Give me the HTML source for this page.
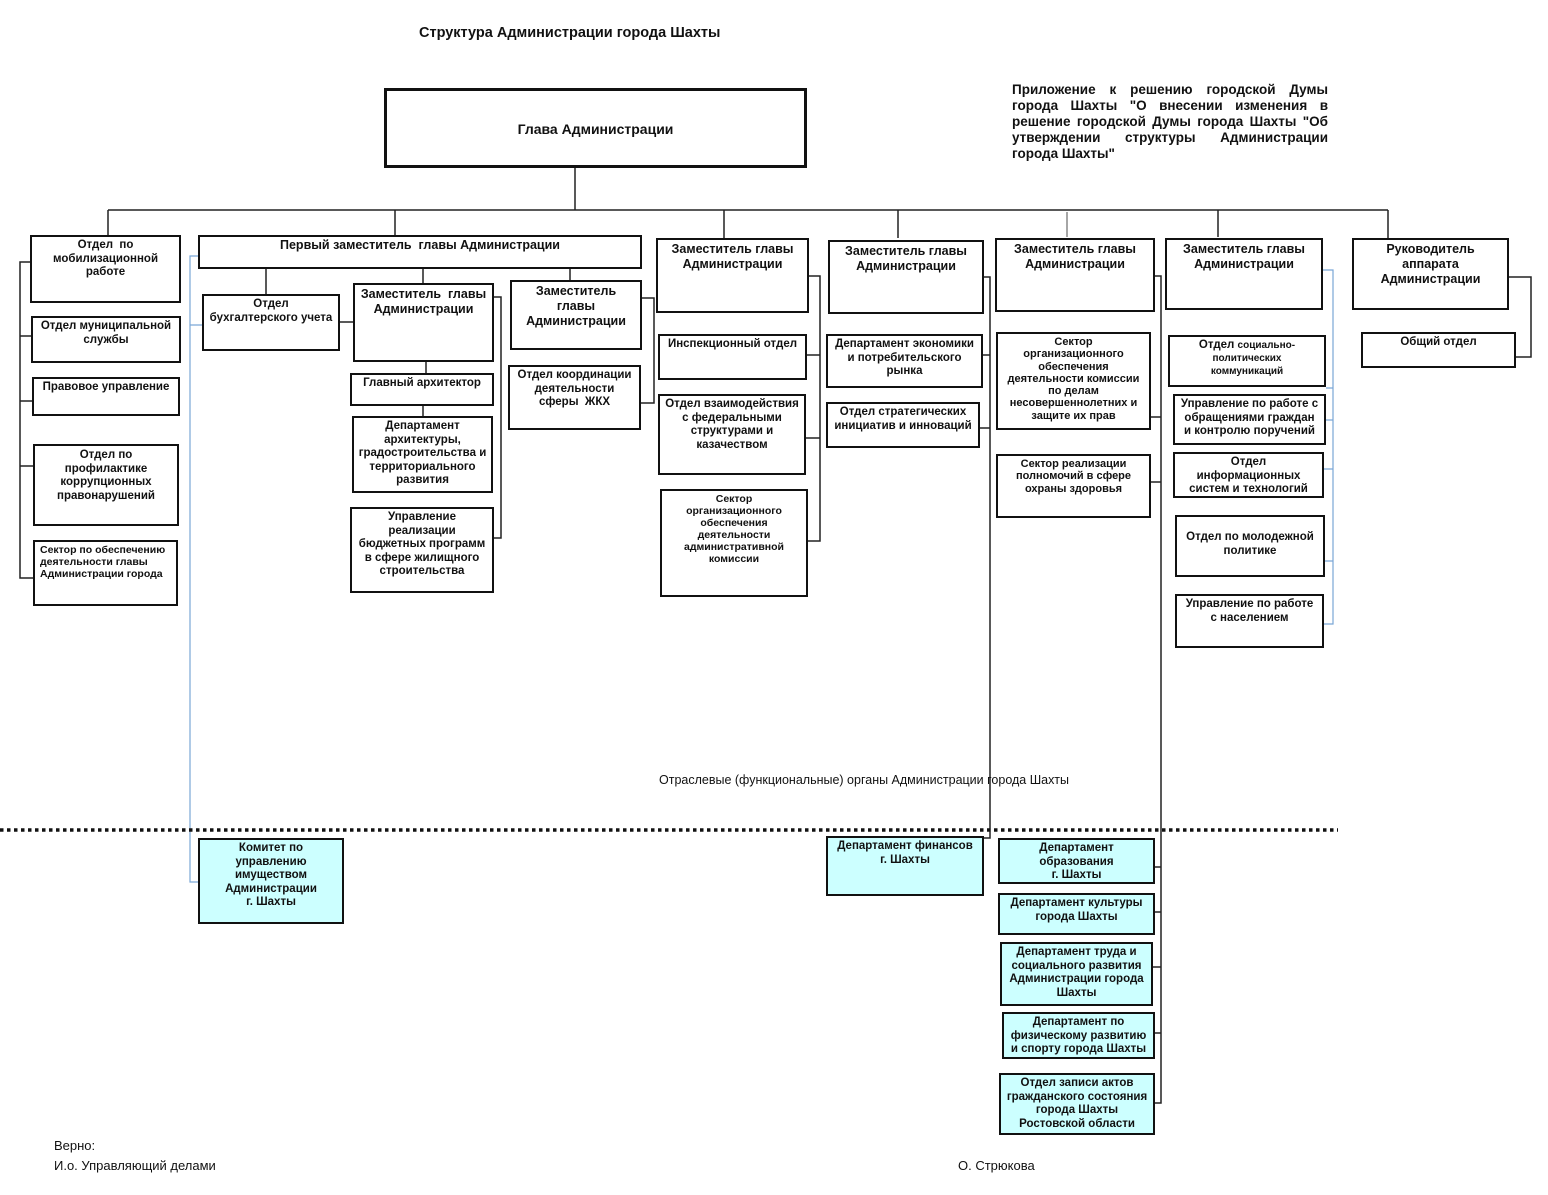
<!DOCTYPE html>
<html><head><meta charset="utf-8"><style>
body{margin:0;width:1548px;height:1195px;background:#fff;position:relative;overflow:hidden;font-family:"Liberation Sans",Arial,sans-serif;}
.b{position:absolute;box-sizing:border-box;border:2.5px solid #111;background:#fff;font-weight:bold;font-size:11.5px;line-height:13.5px;text-align:center;padding:2px 1px;color:#111;white-space:nowrap;overflow:hidden;}
.c{background:#ccffff;}
.t{position:absolute;white-space:nowrap;color:#111;}
svg{position:absolute;left:0;top:0;}
</style></head><body>
<svg width="1548" height="1195">
<g stroke="#222" stroke-width="1.5" fill="none">
<path d="M575 168V210M108 210H1388M108 210V235M395 210V235M724 210V240M898 210V238M1218 210V237M1388 210V238"/>
<path d="M1067 212V237" stroke="#888"/>
<path d="M30 262H20V578H33M20 336H31M20 401H32M20 466H33"/>
<path d="M266 269V294M423 269V283M570 269V280M340 322H353M426 362V373M423 406V416"/>
<path d="M494 297H501V538H494"/>
<path d="M642 298H654V403H641"/>
<path d="M809 276H820V541H808M820 355H807M820 438H806"/>
<path d="M984 277H990V838H984M990 355H983M990 428H980"/>
<path d="M1155 276H1161V1103H1155M1161 417H1151M1161 482H1151M1161 867H1155M1161 912H1155M1161 967H1153M1161 1033H1155"/>
<path d="M1509 277H1531V357H1516"/>
</g>
<g stroke="#7aa6d6" stroke-width="1.2" fill="none">
<path d="M198 256H190V882H198M190 325H202"/>
<path d="M1323 270H1333V624H1324M1333 388H1326M1333 420H1326M1333 469H1324M1333 561H1325"/>
</g>
<line x1="0" y1="830" x2="1338" y2="830" stroke="#111" stroke-width="3.5" stroke-dasharray="3.5,3.5"/>
</svg>
<div class="t" style="left:419px;top:25px;font-size:14.5px;font-weight:bold">Структура Администрации города Шахты</div>
<div class="t" style="left:1012px;top:82px;width:316px;white-space:normal;font-size:13.5px;font-weight:bold;line-height:16px;text-align:justify">Приложение к решению городской Думы города Шахты "О внесении изменения в решение городской Думы города Шахты "Об утверждении структуры Администрации города Шахты"</div>
<div class="b" style="left:384px;top:88px;width:423px;height:80px;border-width:3px;font-size:14px;padding-top:32px">Глава Администрации</div>

<div class="b" style="left:30px;top:235px;width:151px;height:68px">Отдел &nbsp;по<br>мобилизационной<br>работе</div>
<div class="b" style="left:31px;top:316px;width:150px;height:47px">Отдел муниципальной<br>службы</div>
<div class="b" style="left:32px;top:377px;width:148px;height:39px">Правовое управление</div>
<div class="b" style="left:33px;top:444px;width:146px;height:82px;padding-top:3px">Отдел по<br>профилактике<br>коррупционных<br>правонарушений</div>
<div class="b" style="left:33px;top:540px;width:145px;height:66px;font-size:10.5px;line-height:12px;text-align:left;padding-left:5px">Сектор по обеспечению<br>деятельности главы<br>Администрации города</div>

<div class="b" style="left:198px;top:235px;width:444px;height:34px;font-size:12.5px">Первый заместитель &nbsp;главы Администрации</div>
<div class="b" style="left:202px;top:294px;width:138px;height:57px">Отдел<br>бухгалтерского учета</div>
<div class="b" style="left:353px;top:283px;width:141px;height:79px;font-size:12.5px;line-height:15px">Заместитель &nbsp;главы<br>Администрации</div>
<div class="b" style="left:350px;top:373px;width:144px;height:33px">Главный архитектор</div>
<div class="b" style="left:352px;top:416px;width:141px;height:77px">Департамент<br>архитектуры,<br>градостроительства и<br>территориального<br>развития</div>
<div class="b" style="left:350px;top:507px;width:144px;height:86px">Управление<br>реализации<br>бюджетных программ<br>в сфере жилищного<br>строительства</div>
<div class="b" style="left:510px;top:280px;width:132px;height:70px;font-size:12.5px;line-height:15px">Заместитель<br>главы<br>Администрации</div>
<div class="b" style="left:508px;top:365px;width:133px;height:65px">Отдел координации<br>деятельности<br>сферы &nbsp;ЖКХ</div>

<div class="b" style="left:656px;top:238px;width:153px;height:75px;font-size:12.5px;line-height:15px">Заместитель главы<br>Администрации</div>
<div class="b" style="left:658px;top:334px;width:149px;height:46px">Инспекционный отдел</div>
<div class="b" style="left:658px;top:394px;width:148px;height:81px">Отдел взаимодействия<br>с федеральными<br>структурами и<br>казачеством</div>
<div class="b" style="left:660px;top:489px;width:148px;height:108px;font-size:10.5px;line-height:12px">Сектор<br>организационного<br>обеспечения<br>деятельности<br>административной<br>комиссии</div>

<div class="b" style="left:828px;top:240px;width:156px;height:74px;font-size:12.5px;line-height:15px">Заместитель главы<br>Администрации</div>
<div class="b" style="left:826px;top:334px;width:157px;height:54px">Департамент экономики<br>и потребительского<br>рынка</div>
<div class="b" style="left:826px;top:402px;width:154px;height:46px">Отдел стратегических<br>инициатив и инноваций</div>

<div class="b" style="left:995px;top:238px;width:160px;height:74px;font-size:12.5px;line-height:15px">Заместитель главы<br>Администрации</div>
<div class="b" style="left:996px;top:332px;width:155px;height:98px;font-size:11px;line-height:12.3px">Сектор<br>организационного<br>обеспечения<br>деятельности комиссии<br>по делам<br>несовершеннолетних и<br>защите их прав</div>
<div class="b" style="left:996px;top:454px;width:155px;height:64px;font-size:11px;line-height:12.3px">Сектор реализации<br>полномочий в сфере<br>охраны здоровья</div>

<div class="b" style="left:1165px;top:238px;width:158px;height:72px;font-size:12.5px;line-height:15px">Заместитель главы<br>Администрации</div>
<div class="b" style="left:1168px;top:335px;width:158px;height:52px;line-height:13px">Отдел <span style="font-size:10px">социально-<br>политических<br>коммуникаций</span></div>
<div class="b" style="left:1173px;top:394px;width:153px;height:51px">Управление по работе с<br>обращениями граждан<br>и контролю поручений</div>
<div class="b" style="left:1173px;top:452px;width:151px;height:46px">Отдел<br>информационных<br>систем и технологий</div>
<div class="b" style="left:1175px;top:515px;width:150px;height:62px;padding-top:14px">Отдел по молодежной<br>политике</div>
<div class="b" style="left:1175px;top:594px;width:149px;height:54px">Управление по работе<br>с населением</div>

<div class="b" style="left:1352px;top:238px;width:157px;height:72px;font-size:12.5px;line-height:15px">Руководитель<br>аппарата<br>Администрации</div>
<div class="b" style="left:1361px;top:332px;width:155px;height:36px">Общий отдел</div>

<div class="t" style="left:659px;top:773px;font-size:12.5px">Отраслевые (функциональные) органы Администрации города Шахты</div>

<div class="b c" style="left:198px;top:838px;width:146px;height:86px">Комитет по<br>управлению<br>имуществом<br>Администрации<br>г. Шахты</div>
<div class="b c" style="left:826px;top:836px;width:158px;height:60px">Департамент финансов<br>г. Шахты</div>
<div class="b c" style="left:998px;top:838px;width:157px;height:46px">Департамент<br>образования<br>г. Шахты</div>
<div class="b c" style="left:998px;top:893px;width:157px;height:42px">Департамент культуры<br>города Шахты</div>
<div class="b c" style="left:1000px;top:942px;width:153px;height:64px">Департамент труда и<br>социального развития<br>Администрации города<br>Шахты</div>
<div class="b c" style="left:1002px;top:1012px;width:153px;height:47px">Департамент по<br>физическому развитию<br>и спорту города Шахты</div>
<div class="b c" style="left:999px;top:1073px;width:156px;height:62px">Отдел записи актов<br>гражданского состояния<br>города Шахты<br>Ростовской области</div>

<div class="t" style="left:54px;top:1138px;font-size:13px">Верно:</div>
<div class="t" style="left:54px;top:1158px;font-size:13px">И.о. Управляющий делами</div>
<div class="t" style="left:958px;top:1158px;font-size:13px">О. Стрюкова</div>
</body></html>
